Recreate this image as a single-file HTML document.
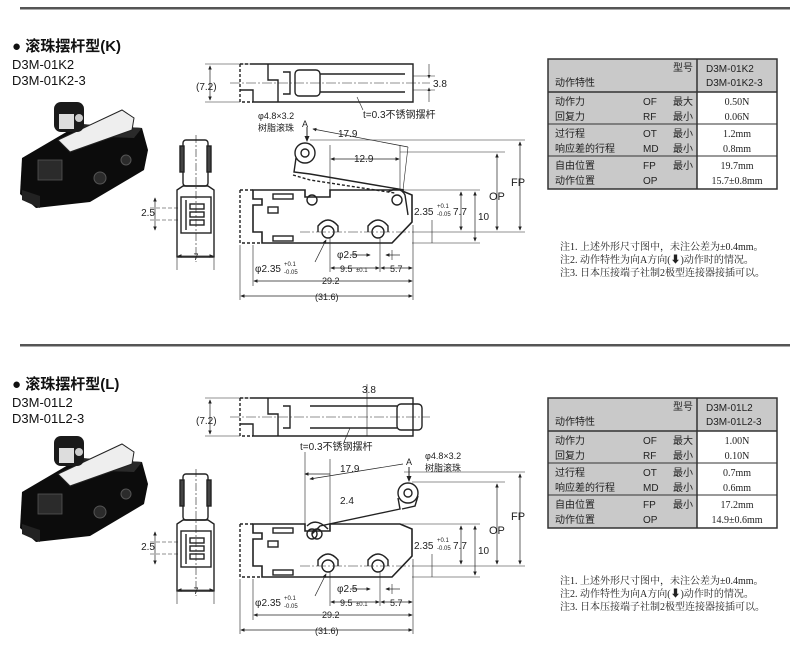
<!DOCTYPE html>
<html><head><meta charset="utf-8"><style>
html,body{margin:0;padding:0;background:#fff;}
svg{display:block;font-family:"Liberation Sans","Noto Sans CJK SC",sans-serif;}
.s{font-family:"Liberation Serif","Noto Serif CJK SC",serif;}
</style></head><body>
<svg width="790" height="648" viewBox="0 0 790 648" xmlns="http://www.w3.org/2000/svg">
<defs>
<marker id="a" markerWidth="6" markerHeight="6" refX="5" refY="3" orient="auto-start-reverse"><path d="M0,0.5 L6,3 L0,5.5Z" fill="#222"/></marker>
<g id="photo">
  <polygon points="22,158 80,124 142,128 148,150 144,170 90,202 36,208 20,194" fill="#0c0c0c"/>
  <polygon points="80,124 142,128 134,138 72,136" fill="#2a2a2a"/>
  <polygon points="58,140 122,110 134,118 132,130 70,152" fill="#eee" stroke="#222" stroke-width="1"/>
  <rect x="54" y="102" width="30" height="30" rx="7" fill="#1a1a1a"/>
  <rect x="59" y="114" width="15" height="15" fill="#ddd"/>
  <circle cx="79" cy="118" r="4" fill="#ccc"/>
  <rect x="38" y="160" width="24" height="20" fill="#2b2b2b" stroke="#555" stroke-width="0.8"/>
  <circle cx="100" cy="178" r="6" fill="#2b2b2b" stroke="#555"/>
  <circle cx="126" cy="160" r="5" fill="#2b2b2b" stroke="#555"/>
  <polygon points="22,190 40,196 40,208 22,200" fill="#222"/>
</g>
<g id="frontside" stroke="#222" fill="none" stroke-width="1.4">
  <rect x="183" y="140" width="25" height="46" rx="3"/>
  <rect x="180" y="146" width="4" height="26" fill="#444"/>
  <rect x="207" y="146" width="4" height="26" fill="#444"/>
  <path d="M177,190 L183,186 L208,186 L214,190 L214,257 L177,257 Z"/>
  <rect x="181" y="197" width="30" height="36"/>
  <line x1="186" y1="200" x2="186" y2="230"/>
  <rect x="190" y="204" width="14" height="5"/><rect x="190" y="212" width="14" height="5"/><rect x="190" y="220" width="14" height="5"/>
  <line x1="196" y1="135" x2="196" y2="262" stroke-dasharray="8,2,2,2" stroke-width="0.6"/>
  <line x1="150" y1="208" x2="180" y2="208" stroke-dasharray="4,2" stroke-width="0.6"/>
  <line x1="150" y1="220" x2="180" y2="220" stroke-dasharray="4,2" stroke-width="0.6"/>
  <line x1="155" y1="198" x2="155" y2="230" stroke-width="0.7" marker-start="url(#a)" marker-end="url(#a)"/>
  <line x1="177" y1="258" x2="177" y2="270" stroke-width="0.6"/><line x1="214" y1="258" x2="214" y2="270" stroke-width="0.6"/>
  <line x1="178" y1="256" x2="213" y2="256" stroke-width="0.7" marker-start="url(#a)" marker-end="url(#a)"/>
  <path d="M253,64 L413,64 L413,102 L253,102 L253,90 L240,90" />
  <path d="M240,64 L253,64 M240,64 L240,102 L253,102" stroke-dasharray="3,2"/>
  <line x1="205" y1="64" x2="253" y2="64" stroke-width="0.6"/><line x1="205" y1="102" x2="240" y2="102" stroke-width="0.6"/>
  <line x1="210" y1="66" x2="210" y2="100" stroke-width="0.7" marker-start="url(#a)" marker-end="url(#a)"/>
  <line x1="230" y1="83" x2="430" y2="83" stroke-dasharray="10,2,2,2" stroke-width="0.6"/>
  <path d="M268,64 L268,80 L278,80 L278,102 M283,72 L290,72 L290,94 L283,94"/>
  <path d="M253,190 L305,190 L305,197 L330,197 L330,190 L400,190 L412,195 L412,222 L392,243 L262,243 L262,232 L253,232 L253,205 L262,205 L262,199 L253,199 Z" stroke-width="1.6"/>
  <path d="M240,190 L253,190 M240,190 L240,243 L262,243" stroke-dasharray="3,2"/>
  <rect x="268" y="207" width="10" height="6"/>
  <rect x="273" y="194" width="20" height="5"/><rect x="273" y="236" width="20" height="5"/>
  <circle cx="312" cy="200" r="5"/>
  <circle cx="328" cy="232" r="6"/><circle cx="378" cy="232" r="6"/>
  <path d="M318,232 L318,226 Q328,214 338,226 L338,232 M368,232 L368,226 Q378,214 388,226 L388,232"/>
  <line x1="300" y1="232" x2="420" y2="232" stroke-dasharray="10,2,2,2" stroke-width="0.6"/>
  <line x1="400" y1="190" x2="480" y2="190" stroke-width="0.6"/>
  <line x1="412" y1="243" x2="480" y2="243" stroke-width="0.6"/>
  <line x1="420" y1="232" x2="525" y2="232" stroke-width="0.6"/>
  <line x1="461" y1="192" x2="461" y2="230" stroke-width="0.7" marker-start="url(#a)" marker-end="url(#a)"/>
  <line x1="475" y1="192" x2="475" y2="241" stroke-width="0.7" marker-start="url(#a)" marker-end="url(#a)"/>
  <line x1="432" y1="220" x2="432" y2="243" stroke-width="0.6"/>
  <line x1="253" y1="245" x2="253" y2="286" stroke-width="0.6"/>
  <line x1="240" y1="245" x2="240" y2="300" stroke-width="0.6"/>
  <line x1="413" y1="225" x2="413" y2="300" stroke-width="0.6"/>
  <line x1="330" y1="238" x2="330" y2="272" stroke-width="0.6"/>
  <line x1="380" y1="238" x2="380" y2="272" stroke-width="0.6"/>
  <line x1="392" y1="250" x2="392" y2="260" stroke-width="0.6"/>
  <line x1="331" y1="268" x2="379" y2="268" stroke-width="0.7" marker-start="url(#a)" marker-end="url(#a)"/>
  <line x1="381" y1="268" x2="412" y2="268" stroke-width="0.7" marker-start="url(#a)" marker-end="url(#a)"/>
  <line x1="254" y1="281" x2="412" y2="281" stroke-width="0.7" marker-start="url(#a)" marker-end="url(#a)"/>
  <line x1="241" y1="296" x2="412" y2="296" stroke-width="0.7" marker-start="url(#a)" marker-end="url(#a)"/>
  <line x1="350" y1="255" x2="370" y2="255" stroke-width="0.7" marker-end="url(#a)"/>
  <line x1="400" y1="255" x2="386" y2="255" stroke-width="0.7" marker-end="url(#a)"/>
  <line x1="326" y1="240" x2="315" y2="262" stroke-width="0.7" marker-start="url(#a)"/>
</g>
<g id="txt" font-size="10" fill="#222">
  <text x="196" y="90">(7.2)</text>
  <text x="155" y="216" text-anchor="end">2.5</text>
  <text x="196" y="260" text-anchor="middle" font-size="9">7</text>
  <text x="414" y="215">2.35</text><text x="437" y="208" font-size="6">+0.1</text><text x="437" y="216" font-size="6">-0.05</text>
  <text x="453" y="215">7.7</text>
  <text x="478" y="220">10</text>
  <text x="337" y="258">φ2.5</text>
  <text x="340" y="272" font-size="9">9.5</text><text x="356" y="272" font-size="6">±0.1</text>
  <text x="390" y="272" font-size="9">5.7</text>
  <text x="255" y="272">φ2.35</text><text x="284" y="266" font-size="6">+0.1</text><text x="284" y="274" font-size="6">-0.05</text>
  <text x="322" y="284" font-size="9">29.2</text>
  <text x="315" y="300" font-size="9">(31.6)</text>
</g>
<g id="t1" font-size="10">
  <rect x="548" y="59" width="229" height="130" fill="#c9c9c9" stroke="#333" stroke-width="1"/>
  <rect x="697" y="92" width="80" height="97" fill="#fff"/>
  <line x1="697" y1="59" x2="697" y2="189" stroke="#333" stroke-width="1.5"/>
  <line x1="548" y1="92" x2="777" y2="92" stroke="#333" stroke-width="1.5"/>
  <line x1="548" y1="124" x2="777" y2="124" stroke="#333"/>
  <line x1="548" y1="156" x2="777" y2="156" stroke="#333"/>
  <rect x="548" y="59" width="229" height="130" fill="none" stroke="#333" stroke-width="1.5"/>
</g>
</defs>

<rect x="20" y="7" width="770" height="2.5" fill="#555"/>
<rect x="20" y="344" width="770" height="2.5" fill="#555"/>

<text x="12" y="51" font-size="15" fill="#111" font-weight="bold">● 滚珠摆杆型(K)</text>
<text x="12" y="69" font-size="13" fill="#111">D3M-01K2</text>
<text x="12" y="85" font-size="13" fill="#111">D3M-01K2-3</text>
<use href="#photo"/>
<use href="#frontside"/>
<use href="#txt"/>
<g stroke="#222" fill="none" stroke-width="1.4">
  <circle cx="305" cy="153" r="10"/><circle cx="305" cy="153" r="4"/>
  <path d="M296,158 L294,172 L310,174 L404,190" />
  <path d="M293,175 L310,180 L395,193" stroke-dasharray="3,2"/>
  <circle cx="397" cy="200" r="5"/>
  <path d="M388,192 Q400,185 405,195 L408,215"/>
  <line x1="330" y1="145" x2="330" y2="190" stroke-width="0.6"/>
  <line x1="400" y1="145" x2="400" y2="190" stroke-width="0.6"/>
  <line x1="331" y1="159" x2="399" y2="159" stroke-width="0.7" marker-start="url(#a)" marker-end="url(#a)"/>
  <line x1="313" y1="129" x2="408" y2="147" stroke-width="0.7" marker-start="url(#a)"/>
  <line x1="408" y1="147" x2="403" y2="190" stroke-width="0.6"/>
  <line x1="310" y1="140" x2="525" y2="140" stroke-width="0.6"/>
  <line x1="400" y1="152" x2="505" y2="152" stroke-width="0.6"/>
  <line x1="520" y1="142" x2="520" y2="230" stroke-width="0.7" marker-start="url(#a)" marker-end="url(#a)"/>
  <line x1="497" y1="154" x2="497" y2="230" stroke-width="0.7" marker-start="url(#a)" marker-end="url(#a)"/>
  <line x1="307" y1="127" x2="307" y2="141" stroke-width="1" marker-end="url(#a)"/>
  <line x1="363" y1="110" x2="357" y2="97" stroke-width="0.6"/>
  <line x1="429" y1="64" x2="429" y2="78" stroke-width="0.6" marker-end="url(#a)"/>
  <line x1="429" y1="102" x2="429" y2="88" stroke-width="0.6" marker-end="url(#a)"/>
  <line x1="413" y1="76" x2="435" y2="76" stroke-width="0.6"/><line x1="413" y1="90" x2="435" y2="90" stroke-width="0.6"/>
  <rect x="295" y="70" width="25" height="26" rx="4"/>
  <line x1="320" y1="74" x2="405" y2="74"/><line x1="320" y1="92" x2="405" y2="92"/>
</g>
<g font-size="10" fill="#222">
  <text x="363" y="118">t=0.3不锈钢摆杆</text>
  <text x="258" y="119" font-size="9">φ4.8×3.2</text>
  <text x="258" y="131" font-size="9">树脂滚珠</text>
  <text x="302" y="127" font-size="9">A</text>
  <text x="338" y="137">17.9</text>
  <text x="354" y="162">12.9</text>
  <text x="433" y="87">3.8</text>
  <text x="511" y="186" font-size="11">FP</text>
  <text x="489" y="200" font-size="11">OP</text>
</g>

<text x="12" y="389" font-size="15" fill="#111" font-weight="bold">● 滚珠摆杆型(L)</text>
<text x="12" y="407" font-size="13" fill="#111">D3M-01L2</text>
<text x="12" y="423" font-size="13" fill="#111">D3M-01L2-3</text>
<g transform="translate(0,334)">
<use href="#photo"/>
<use href="#frontside"/>
<use href="#txt"/>
<g stroke="#222" fill="none" stroke-width="1.4">
  <circle cx="408" cy="159" r="10"/><circle cx="408" cy="159" r="4"/>
  <path d="M398,164 L400,175 L320,192 L312,200"/>
  <path d="M402,175 L415,172 L418,162"/>
  <circle cx="317" cy="200" r="5"/>
  <path d="M307,192 Q316,183 328,195"/>
  <line x1="305" y1="118" x2="305" y2="190" stroke-width="0.6"/>
  <line x1="330" y1="125" x2="330" y2="190" stroke-width="0.6"/>
  <line x1="305" y1="140" x2="330" y2="140" stroke-width="0.7" marker-start="url(#a)"/>
  <line x1="310" y1="145" x2="403" y2="130" stroke-width="0.7" marker-start="url(#a)"/>
  <line x1="404" y1="138" x2="525" y2="138" stroke-width="0.6"/>
  <line x1="412" y1="148" x2="505" y2="148" stroke-width="0.6"/>
  <line x1="520" y1="140" x2="520" y2="230" stroke-width="0.7" marker-start="url(#a)" marker-end="url(#a)"/>
  <line x1="497" y1="150" x2="497" y2="230" stroke-width="0.7" marker-start="url(#a)" marker-end="url(#a)"/>
  <line x1="409" y1="133" x2="409" y2="147" stroke-width="1" marker-end="url(#a)"/>
  <line x1="344" y1="108" x2="350" y2="94" stroke-width="0.6"/>
  <line x1="367" y1="50" x2="367" y2="102" stroke-width="0.6"/>
  <rect x="397" y="70" width="25" height="26" rx="4"/>
  <line x1="310" y1="72" x2="397" y2="72"/><line x1="310" y1="94" x2="397" y2="94"/>
</g>
<g font-size="10" fill="#222">
  <text x="300" y="116">t=0.3不锈钢摆杆</text>
  <text x="425" y="125" font-size="9">φ4.8×3.2</text>
  <text x="425" y="137" font-size="9">树脂滚珠</text>
  <text x="406" y="131" font-size="9">A</text>
  <text x="340" y="138">17.9</text>
  <text x="340" y="170">2.4</text>
  <text x="362" y="59">3.8</text>
  <text x="511" y="186" font-size="11">FP</text>
  <text x="489" y="200" font-size="11">OP</text>
</g>
</g>

<use href="#t1"/>
<g font-size="10" fill="#222">
  <text x="673" y="71">型号</text><text x="706" y="72">D3M-01K2</text><text x="706" y="86">D3M-01K2-3</text>
  <text x="555" y="86">动作特性</text>
  <text x="555" y="105">动作力</text><text x="643" y="105">OF</text><text x="673" y="105">最大</text>
  <text x="555" y="120">回复力</text><text x="643" y="120">RF</text><text x="673" y="120">最小</text>
  <text x="555" y="137">过行程</text><text x="643" y="137">OT</text><text x="673" y="137">最小</text>
  <text x="555" y="152">响应差的行程</text><text x="643" y="152">MD</text><text x="673" y="152">最小</text>
  <text x="555" y="169">自由位置</text><text x="643" y="169">FP</text><text x="673" y="169">最小</text>
  <text x="555" y="184">动作位置</text><text x="643" y="184">OP</text>
  <g class="s" text-anchor="middle"><text x="737" y="105">0.50N</text><text x="737" y="120">0.06N</text><text x="737" y="137">1.2mm</text><text x="737" y="152">0.8mm</text><text x="737" y="169">19.7mm</text><text x="737" y="184">15.7±0.8mm</text></g>
</g>
<g transform="translate(0,339)">
<use href="#t1"/>
<g font-size="10" fill="#222">
  <text x="673" y="71">型号</text><text x="706" y="72">D3M-01L2</text><text x="706" y="86">D3M-01L2-3</text>
  <text x="555" y="86">动作特性</text>
  <text x="555" y="105">动作力</text><text x="643" y="105">OF</text><text x="673" y="105">最大</text>
  <text x="555" y="120">回复力</text><text x="643" y="120">RF</text><text x="673" y="120">最小</text>
  <text x="555" y="137">过行程</text><text x="643" y="137">OT</text><text x="673" y="137">最小</text>
  <text x="555" y="152">响应差的行程</text><text x="643" y="152">MD</text><text x="673" y="152">最小</text>
  <text x="555" y="169">自由位置</text><text x="643" y="169">FP</text><text x="673" y="169">最小</text>
  <text x="555" y="184">动作位置</text><text x="643" y="184">OP</text>
  <g class="s" text-anchor="middle"><text x="737" y="105">1.00N</text><text x="737" y="120">0.10N</text><text x="737" y="137">0.7mm</text><text x="737" y="152">0.6mm</text><text x="737" y="169">17.2mm</text><text x="737" y="184">14.9±0.6mm</text></g>
</g>
</g>

<g class="s" font-size="10" fill="#222">
  <text x="560" y="250">注1. 上述外形尺寸图中，未注公差为±0.4mm。</text>
  <text x="560" y="263">注2. 动作特性为向A方向(⬇)动作时的情况。</text>
  <text x="560" y="276">注3. 日本压接端子社制2极型连接器接插可以。</text>
  <text x="560" y="584">注1. 上述外形尺寸图中，未注公差为±0.4mm。</text>
  <text x="560" y="597">注2. 动作特性为向A方向(⬇)动作时的情况。</text>
  <text x="560" y="610">注3. 日本压接端子社制2极型连接器接插可以。</text>
</g>
</svg>
</body></html>
